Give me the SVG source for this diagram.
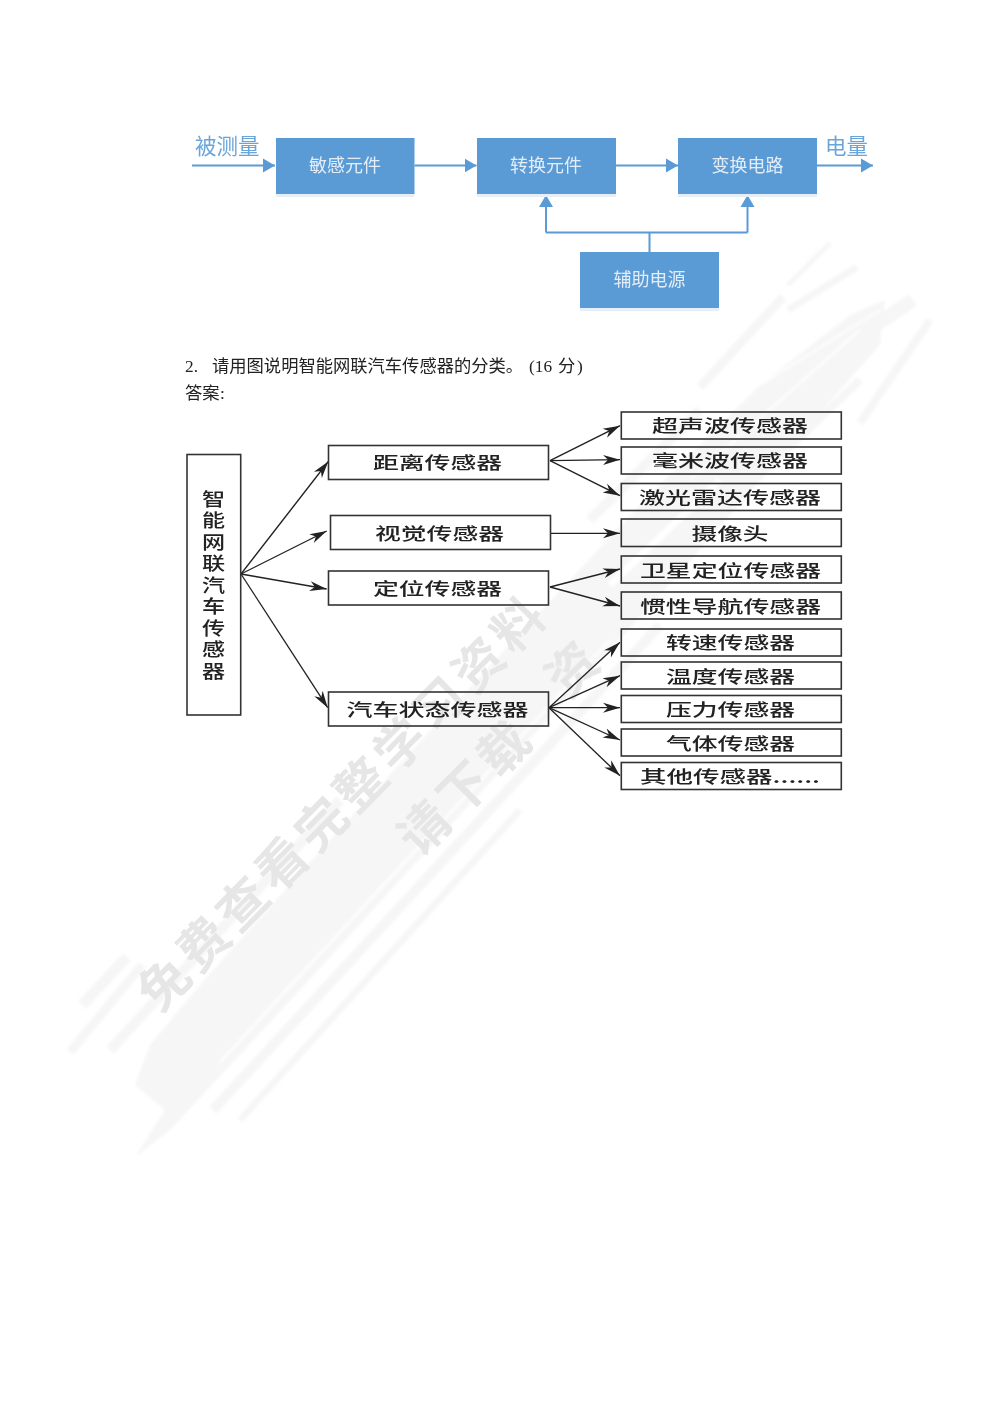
<svg xmlns="http://www.w3.org/2000/svg" width="993" height="1404" viewBox="0 0 993 1404">
<style>
text{font-family:"Noto Sans CJK SC","Liberation Sans",sans-serif}
.blue{fill:#5b9bd5}
.shadow{fill:#e6eff8}
.bl{fill:#e3edf7;font-size:18px;text-anchor:middle}
.qty{fill:#6aa5da;font-size:21.500px}
.flow{fill:none;stroke:#5b9bd5;stroke-width:2;marker-end:url(#ah)}
.flow2{fill:none;stroke:#5b9bd5;stroke-width:2}
.para{fill:#222;font-size:17.3px}
.ser{font-family:"Liberation Serif",serif}
.box{fill:none;stroke:#333;stroke-width:1.6}
.lab{fill:#222;font-size:17px;font-weight:500}
.tree{fill:none;stroke:#222;stroke-width:1.3;marker-end:url(#st)}
.wm{fill:#e6e6e6;font-size:50px;font-weight:700;text-anchor:middle;letter-spacing:6px}
.body{fill:#f6f6f6}
.st{stroke:#f6f6f6;fill:none}
.gap{stroke:#fff;fill:none}
</style>
<defs>
<marker id="ah" markerUnits="userSpaceOnUse" markerWidth="13" markerHeight="16" refX="12" refY="8" orient="auto"><path d="M0,1 L12,8 L0,15Z" fill="#5b9bd5"/></marker>
<marker id="st" markerUnits="userSpaceOnUse" markerWidth="18" markerHeight="12" refX="17" refY="6" orient="auto"><path d="M0,1 L17,6 L0,11 L5,6Z" fill="#222"/></marker>
<filter id="soft" x="-5%" y="-5%" width="110%" height="110%"><feGaussianBlur stdDeviation="1.800"/></filter>
<filter id="softer" x="-5%" y="-5%" width="110%" height="110%"><feGaussianBlur stdDeviation="0.700"/></filter>
</defs>
<rect width="993" height="1404" fill="#fff"/>
<g id="watermark">
<g filter="url(#soft)">
<path class="body" d="M135,1085 L150,1045 L200,985 L330,840 L500,655 L640,505 L760,385 L850,315 L885,300 L880,345 L800,435 L660,595 L520,750 L400,880 L300,990 L170,1130 L135,1157 L165,1110Z"/>
<g class="st">
<path stroke-width="11" d="M82,1005 L127,957"/>
<path stroke-width="9" d="M70,1052 L142,965"/>
<path stroke-width="10" d="M110,1050 L340,800"/>
<path stroke-width="10" d="M213,1110 L660,625"/>
<path stroke-width="7" d="M240,1120 L520,810"/>
<path stroke-width="5" d="M788,285 L830,243"/>
<path stroke-width="7" d="M788,310 L857,267"/>
<path stroke-width="9" d="M700,387 L783,297"/>
<path stroke-width="14" d="M750,410 L913,300"/>
<path stroke-width="8" d="M860,423 L930,320"/>
<path stroke-width="8" d="M640,590 L860,380"/>
<path stroke-width="10" d="M590,520 L700,410"/>
</g>
<g class="gap">
<path stroke-width="2.500" d="M220,1062 L610,640"/>
<path stroke-width="2" d="M195,1105 L640,625"/>
<path stroke-width="2" d="M690,480 L860,330"/>
<path stroke-width="2" d="M760,385 L880,310"/>
<path stroke-width="7" d="M610,585 L720,480"/>
</g>
</g>
<g filter="url(#softer)">
<text class="wm" transform="translate(356,815) rotate(-45.400)">免费查看完整学习资料</text>
<text class="wm" transform="translate(479,799) rotate(-45)">请下载</text>
<text class="wm" transform="translate(587,680) rotate(-45)">资</text>
</g>
</g>
<g id="connectors-top">
<path class="flow" d="M192,165.500H275"/>
<path class="flow" d="M414.500,165.500H476.500"/>
<path class="flow" d="M616,165.500H678"/>
<path class="flow" d="M817,165.500H873"/>
<path class="flow" d="M546,232.500V195"/>
<path class="flow" d="M747.500,232.500V195"/>
<path class="flow2" d="M546,232.500H747.500M649.500,232.500V252"/>
</g>
<g id="n-a"><rect class="shadow" x="276" y="194" width="138.500" height="3"/><rect class="blue" x="276" y="138" width="138.500" height="56"/><text class="bl" x="345" y="172">敏感元件</text></g>
<g id="n-b"><rect class="shadow" x="477" y="194" width="139" height="3"/><rect class="blue" x="477" y="138" width="139" height="56"/><text class="bl" x="546" y="172">转换元件</text></g>
<g id="n-c"><rect class="shadow" x="678" y="194" width="139" height="3"/><rect class="blue" x="678" y="138" width="139" height="56"/><text class="bl" x="747.500" y="172">变换电路</text></g>
<g id="n-d"><rect class="shadow" x="580" y="308" width="139" height="3"/><rect class="blue" x="580" y="252" width="139" height="56"/><text class="bl" x="649.500" y="286">辅助电源</text></g>
<text class="qty" x="195" y="154">被测量</text>
<text class="qty" x="825" y="154">电量</text>
<text class="para" y="372"><tspan class="ser" x="185">2.</tspan><tspan x="212">请用图说明智能网联汽车传感器的分类。</tspan><tspan class="ser" x="529">(16</tspan><tspan x="558">分</tspan><tspan class="ser" x="577">)</tspan></text>
<text class="para" y="398.500"><tspan x="185">答案</tspan><tspan class="ser" x="220">:</tspan></text>
<g id="connectors-tree">
<path class="tree" d="M241,574L328.300,461.500"/>
<path class="tree" d="M241,574L326.700,531"/>
<path class="tree" d="M241,574L326.700,589"/>
<path class="tree" d="M241,574L327.700,707.700"/>
<path class="tree" d="M550,460.700L620,425.700"/>
<path class="tree" d="M550,460.700L620,459.700"/>
<path class="tree" d="M550,460.700L620,495.700"/>
<path class="tree" d="M550,533.300L620,533.300"/>
<path class="tree" d="M550,587L620,569"/>
<path class="tree" d="M550,587L620,606"/>
<path class="tree" d="M549,707.700L620,642.300"/>
<path class="tree" d="M549,707.700L620,675.700"/>
<path class="tree" d="M549,707.700L620,707.700"/>
<path class="tree" d="M549,707.700L620,740"/>
<path class="tree" d="M549,707.700L620,775.700"/>
</g>
<g id="root"><rect class="box" x="187" y="454.500" width="53.700" height="260.500"/><text class="lab" style="font-size:18.500px" text-anchor="middle" transform="translate(213.500,0) scale(1.250,1)"><tspan x="0" y="506">智</tspan><tspan x="0" y="527.500">能</tspan><tspan x="0" y="549">网</tspan><tspan x="0" y="570.500">联</tspan><tspan x="0" y="592">汽</tspan><tspan x="0" y="613.500">车</tspan><tspan x="0" y="635">传</tspan><tspan x="0" y="656.500">感</tspan><tspan x="0" y="678">器</tspan></text></g>
<g id="m1"><rect class="box" x="328.500" y="445.500" width="220" height="34"/><text class="lab" x="373" y="469" textLength="129" lengthAdjust="spacingAndGlyphs">距离传感器</text></g>
<g id="m2"><rect class="box" x="330.500" y="515.500" width="220" height="34"/><text class="lab" x="375" y="539.500" textLength="129" lengthAdjust="spacingAndGlyphs">视觉传感器</text></g>
<g id="m3"><rect class="box" x="328.500" y="571" width="220" height="34"/><text class="lab" x="373" y="595" textLength="129" lengthAdjust="spacingAndGlyphs">定位传感器</text></g>
<g id="m4"><rect class="box" x="328.500" y="692" width="220" height="34"/><text class="lab" x="346.500" y="715.500" textLength="182" lengthAdjust="spacingAndGlyphs">汽车状态传感器</text></g>
<g id="r1"><rect class="box" x="621.300" y="412" width="220" height="27"/><text class="lab" x="652" y="432" textLength="156" lengthAdjust="spacingAndGlyphs">超声波传感器</text></g>
<g id="r2"><rect class="box" x="621.300" y="447" width="220" height="27"/><text class="lab" x="652" y="467" textLength="156" lengthAdjust="spacingAndGlyphs">毫米波传感器</text></g>
<g id="r3"><rect class="box" x="621.300" y="483.500" width="220" height="27"/><text class="lab" x="639" y="503.500" textLength="182" lengthAdjust="spacingAndGlyphs">激光雷达传感器</text></g>
<g id="r4"><rect class="box" x="621.300" y="519" width="220" height="27.500"/><text class="lab" x="691.500" y="539.500" textLength="77" lengthAdjust="spacingAndGlyphs">摄像头</text></g>
<g id="r5"><rect class="box" x="621.300" y="556" width="220" height="27"/><text class="lab" x="640" y="576.500" textLength="181" lengthAdjust="spacingAndGlyphs">卫星定位传感器</text></g>
<g id="r6"><rect class="box" x="621.300" y="592" width="220" height="27"/><text class="lab" x="640" y="612.500" textLength="181" lengthAdjust="spacingAndGlyphs">惯性导航传感器</text></g>
<g id="r7"><rect class="box" x="621.300" y="629" width="220" height="27"/><text class="lab" x="666" y="649" textLength="129" lengthAdjust="spacingAndGlyphs">转速传感器</text></g>
<g id="r8"><rect class="box" x="621.300" y="662" width="220" height="27"/><text class="lab" x="666" y="682.500" textLength="129" lengthAdjust="spacingAndGlyphs">温度传感器</text></g>
<g id="r9"><rect class="box" x="621.300" y="695.500" width="220" height="27"/><text class="lab" x="666" y="716" textLength="129" lengthAdjust="spacingAndGlyphs">压力传感器</text></g>
<g id="r10"><rect class="box" x="621.300" y="729" width="220" height="27"/><text class="lab" x="666" y="749.500" textLength="129" lengthAdjust="spacingAndGlyphs">气体传感器</text></g>
<g id="r11"><rect class="box" x="621.300" y="762.500" width="220" height="27"/><text class="lab" x="640" y="782.500" textLength="180" lengthAdjust="spacingAndGlyphs">其他传感器......</text></g>
</svg>
